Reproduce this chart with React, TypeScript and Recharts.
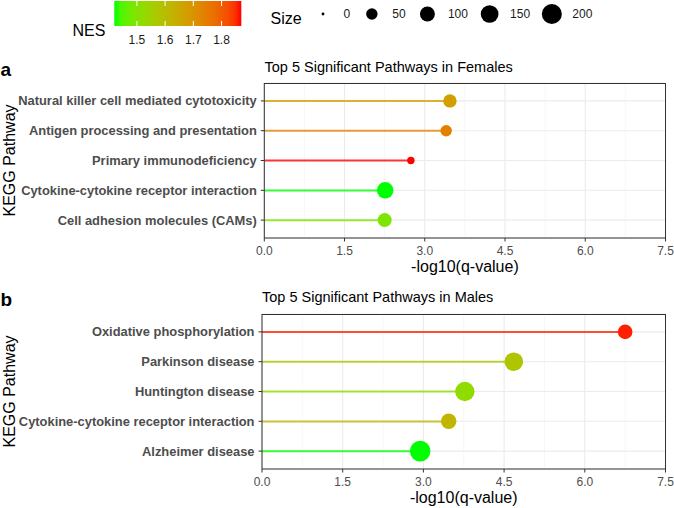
import { ComposedChart, Bar, Scatter, XAxis, YAxis, CartesianGrid, Cell, ReferenceLine } from 'recharts';

const FONT = '"Liberation Sans", Arial, Helvetica, sans-serif';

// females
const femalePathways = [
  'Natural killer cell mediated cytotoxicity',
  'Antigen processing and presentation',
  'Primary immunodeficiency',
  'Cytokine-cytokine receptor interaction',
  'Cell adhesion molecules (CAMs)',
];
const femaleLogQ = [3.47, 3.4, 2.74, 2.26, 2.25];
const femaleNES = [1.67, 1.74, 1.87, 1.42, 1.49];
const femaleSize = [75, 50, 14, 128, 84];

// males
const malePathways = [
  'Oxidative phosphorylation',
  'Parkinson disease',
  'Huntington disease',
  'Cytokine-cytokine receptor interaction',
  'Alzheimer disease',
];
const maleLogQ = [6.75, 4.68, 3.77, 3.47, 2.94];
const maleNES = [1.86, 1.58, 1.52, 1.62, 1.42];
const maleSize = [94, 168, 185, 107, 213];

const xTicks = [0, 1.5, 3, 4.5, 6, 7.5];
const xMinorTicks = [0.75, 2.25, 3.75, 5.25, 6.75];
const nesLimits = [1.42, 1.87];
const nesBreaks = [1.5, 1.6, 1.7, 1.8];
const sizeBreaks = [0, 50, 100, 150, 200];

// green -> red gradient interpolated in Lab, like ggplot
const toLin = (c: number) => {
  const v = c / 255;
  return v <= 0.04045 ? v / 12.92 : Math.pow((v + 0.055) / 1.055, 2.4);
};
const toSrgb = (c: number) => {
  const v = c <= 0.0031308 ? 12.92 * c : 1.055 * Math.pow(c, 1 / 2.4) - 0.055;
  return Math.round(Math.max(0, Math.min(1, v)) * 255);
};
const WX = 0.95047, WZ = 1.08883;
const rgbToLab = (r: number, g: number, b: number) => {
  const R = toLin(r), G = toLin(g), B = toLin(b);
  const X = (0.4124 * R + 0.3576 * G + 0.1805 * B) / WX;
  const Y = 0.2126 * R + 0.7152 * G + 0.0722 * B;
  const Z = (0.0193 * R + 0.1192 * G + 0.9505 * B) / WZ;
  const f = (t: number) => (t > 0.008856 ? Math.cbrt(t) : 7.787 * t + 16 / 116);
  return [116 * f(Y) - 16, 500 * (f(X) - f(Y)), 200 * (f(Y) - f(Z))];
};
const labToHex = (L: number, a: number, b: number) => {
  const fy = (L + 16) / 116, fx = fy + a / 500, fz = fy - b / 200;
  const inv = (t: number) => (t * t * t > 0.008856 ? t * t * t : (t - 16 / 116) / 7.787);
  const X = WX * inv(fx), Y = inv(fy), Z = WZ * inv(fz);
  const r = toSrgb(3.2406 * X - 1.5372 * Y - 0.4986 * Z);
  const g = toSrgb(-0.9689 * X + 1.8758 * Y + 0.0415 * Z);
  const bb = toSrgb(0.0557 * X - 0.204 * Y + 1.057 * Z);
  return '#' + [r, g, bb].map((v) => v.toString(16).padStart(2, '0')).join('');
};
const LOW = rgbToLab(0, 255, 0);
const HIGH = rgbToLab(255, 0, 0);
const nesColor = (v: number) => {
  const t = Math.max(0, Math.min(1, (v - nesLimits[0]) / (nesLimits[1] - nesLimits[0])));
  return labToHex(
    LOW[0] + (HIGH[0] - LOW[0]) * t,
    LOW[1] + (HIGH[1] - LOW[1]) * t,
    LOW[2] + (HIGH[2] - LOW[2]) * t
  );
};
const sizeRadius = (n: number) => 1.4 + 0.61 * Math.sqrt(n);

const Dot = (props: any) => {
  const { cx, cy, payload } = props;
  if (cx == null || cy == null) return <g />;
  return <circle cx={cx} cy={cy} r={sizeRadius(payload.size)} fill={nesColor(payload.nes)} />;
};

const axisText = { fill: '#4D4D4D', fontSize: 12, fontFamily: FONT };

const CHART_W = 674;
const MARGIN = { top: 23, right: 8.5, left: 0, bottom: 0 };

const Panel = ({ names, logq, nes, size, top, yWidth }: any) => {
  const rows = names.map((n: string, i: number) => ({ name: n, q: logq[i], nes: nes[i], size: size[i] }));
  return (
    <div style={{ position: 'absolute', left: 0, top }}>
      <ComposedChart layout="vertical" width={CHART_W} height={218} data={rows} margin={MARGIN}>
        <CartesianGrid xAxisId="minor" horizontal={false} stroke="#F2F2F2" strokeWidth={0.6} />
        <CartesianGrid stroke="#EBEBEB" strokeWidth={1.1} />
        <XAxis
          xAxisId="minor"
          type="number"
          dataKey="q"
          domain={[0, 7.5]}
          allowDataOverflow
          ticks={xMinorTicks}
          hide
        />
        <XAxis
          type="number"
          dataKey="q"
          domain={[0, 7.5]}
          allowDataOverflow
          ticks={xTicks}
          interval={0}
          tickFormatter={(v: number) => v.toFixed(1)}
          height={40}
          tickSize={3.5}
          tickMargin={5}
          axisLine={{ stroke: '#333333' }}
          tickLine={{ stroke: '#333333' }}
          tick={axisText}
          label={{ value: '-log10(q-value)', position: 'insideBottom', offset: 6, fill: '#000', fontSize: 16, fontFamily: FONT }}
        />
        <YAxis
          type="category"
          dataKey="name"
          width={yWidth}
          padding={{ top: 3, bottom: 3 }}
          tickSize={3.5}
          tickMargin={4}
          interval={0}
          axisLine={{ stroke: '#333333' }}
          tickLine={{ stroke: '#333333' }}
          tick={{ ...axisText, fontSize: 12.9, fontWeight: 'bold' }}
        />
        <Bar dataKey="q" barSize={2} isAnimationActive={false}>
          {rows.map((r: any, i: number) => (
            <Cell key={i} fill={nesColor(r.nes)} fillOpacity={0.78} />
          ))}
        </Bar>
        <Scatter dataKey="q" isAnimationActive={false} shape={Dot} />
        <ReferenceLine x={7.5} stroke="#333333" strokeWidth={1} />
      </ComposedChart>
      {/* top edge of the panel border */}
      <div
        style={{
          position: 'absolute',
          left: MARGIN.left + yWidth,
          top: MARGIN.top - 0.5,
          width: CHART_W - MARGIN.right - MARGIN.left - yWidth,
          height: 0,
          borderTop: '1px solid #333333',
        }}
      />
    </div>
  );
};

const Legends = () => {
  const barX = 114.3;
  const barW = 127;
  const bx = (v: number) => barX + ((v - nesLimits[0]) / (nesLimits[1] - nesLimits[0])) * barW;
  const stops = Array.from({ length: 21 }, (_, i) => i / 20);
  let cursor = 323;
  const keys = sizeBreaks.map((s) => {
    const cx = cursor;
    const label = String(s);
    cursor = cx + 20.5 + label.length * 6.67 + 21.7;
    return { s, cx, label };
  });
  return (
    <svg width={674} height={508} style={{ position: 'absolute', left: 0, top: 0 }} fontFamily={FONT}>
      <defs>
        <linearGradient id="nesGrad" x1="0" x2="1" y1="0" y2="0">
          {stops.map((t) => (
            <stop key={t} offset={t} stopColor={nesColor(nesLimits[0] + t * (nesLimits[1] - nesLimits[0]))} />
          ))}
        </linearGradient>
      </defs>
      <text x={72.5} y={35.5} fontSize={16}>NES</text>
      <rect x={barX} y={1} width={barW} height={25} fill="url(#nesGrad)" />
      {nesBreaks.map((b) => (
        <g key={b}>
          <line x1={bx(b)} x2={bx(b)} y1={1} y2={6} stroke="#fff" strokeWidth={1} />
          <line x1={bx(b)} x2={bx(b)} y1={21} y2={26} stroke="#fff" strokeWidth={1} />
          <text x={bx(b)} y={43.5} fontSize={12} textAnchor="middle" fill="#1a1a1a">{b.toFixed(1)}</text>
        </g>
      ))}
      <text x={270.5} y={23.5} fontSize={16}>Size</text>
      {keys.map((k) => (
        <g key={k.s}>
          <circle cx={k.cx} cy={14} r={sizeRadius(k.s)} fill="#000" />
          <text x={k.cx + 20.5} y={18.3} fontSize={12} fill="#1a1a1a">{k.label}</text>
        </g>
      ))}

      <text x={0.5} y={76} fontSize={19} fontWeight="bold">a</text>
      <text x={264.5} y={71.5} fontSize={14.5}>Top 5 Significant Pathways in Females</text>
      <text x={0} y={0} fontSize={16} textAnchor="middle" transform="translate(15 160.5) rotate(-90)">KEGG Pathway</text>

      <text x={0.5} y={306} fontSize={19} fontWeight="bold">b</text>
      <text x={262} y={302} fontSize={14.5}>Top 5 Significant Pathways in Males</text>
      <text x={0} y={0} fontSize={16} textAnchor="middle" transform="translate(15 391.5) rotate(-90)">KEGG Pathway</text>
    </svg>
  );
};

export default function App() {
  return (
    <div style={{ position: 'absolute', left: 0, top: 0, width: 674, height: 508, background: '#fff', fontFamily: FONT }}>
      <Legends />
      <Panel names={femalePathways} logq={femaleLogQ} nes={femaleNES} size={femaleSize} top={60} yWidth={264.3} />
      <Panel names={malePathways} logq={maleLogQ} nes={maleNES} size={maleSize} top={291} yWidth={262} />
    </div>
  );
}
